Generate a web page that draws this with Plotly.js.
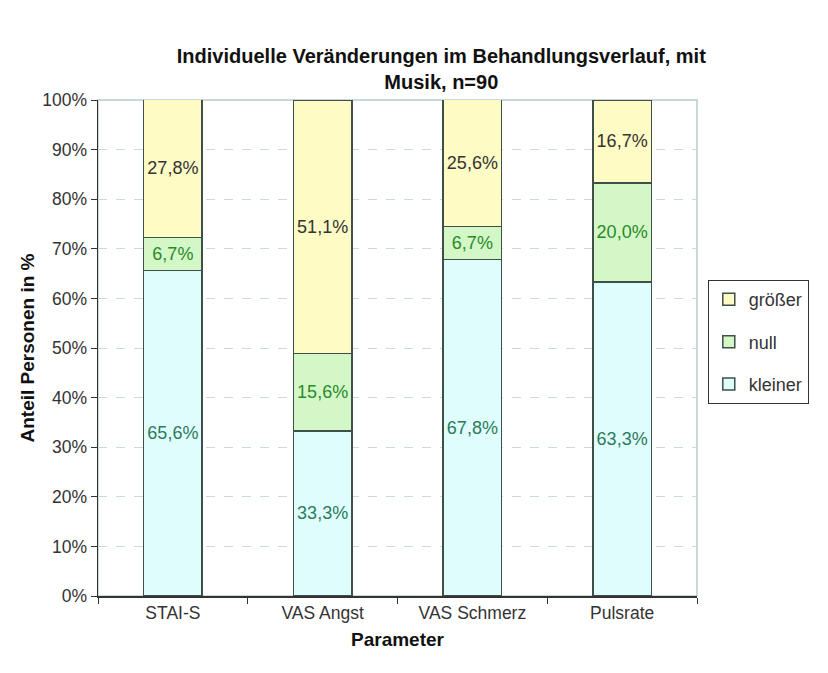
<!DOCTYPE html>
<html><head><meta charset="utf-8">
<script src="https://cdn.plot.ly/plotly-3.0.1.min.js"></script>
<style>body{margin:0;background:#fff}#chart{width:828px;height:673px}</style>
</head><body><div id="chart"></div>
<script>
const categories = ['STAI-S', 'VAS Angst', 'VAS Schmerz', 'Pulsrate'];
const kleiner = [65.6, 33.3, 67.8, 63.3];
const nullVals = [6.7, 15.6, 6.7, 20.0];
const groesser = [27.8, 51.1, 25.6, 16.7];
const yTickVals = [0,10,20,30,40,50,60,70,80,90,100];

const fmt = v => v.toFixed(1).replace('.', ',') + '%';
const font = 'Liberation Sans, Arial, sans-serif';
const outline = {color: '#3f4f4a', width: 1.5};

function trace(name, vals, fill, txtColor, grp, rank) {
  return {
    type: 'bar', name: name, x: categories, y: vals,
    text: vals.map(fmt), textposition: 'inside', insidetextanchor: 'middle',
    constraintext: 'none', textangle: 0,
    textfont: {family: font, size: 18, color: txtColor},
    marker: {color: fill, line: outline},
    width: 0.39, legendgroup: grp, legendrank: rank, hoverinfo: 'skip'
  };
}

const data = [
  trace('kleiner', kleiner, '#e0fdfd', '#2b7a5c', 'c', 3),
  trace('null', nullVals, '#d4f7c8', '#2a8a2a', 'b', 2),
  trace('größer', groesser, '#fffbc4', '#333333', 'a', 1)
];

const layout = {
  width: 828, height: 673,
  margin: {l: 98, r: 131, t: 100, b: 77},
  paper_bgcolor: '#ffffff', plot_bgcolor: '#ffffff',
  barmode: 'stack',
  font: {family: font, color: '#333'},
  title: {text: '<b>Individuelle Veränderungen im Behandlungsverlauf, mit<br>Musik, n=90</b>',
          x: 0.533, xanchor: 'center', xref: 'container', yref: 'container',
          y: 0.906, yanchor: 'middle',
          font: {family: font, size: 20, color: '#111'}},
  xaxis: {
    type: 'category', tickson: 'boundaries', ticks: 'outside', ticklen: 6,
    tickcolor: '#333', showline: true, linecolor: '#333', linewidth: 1.5,
    showgrid: false, tickfont: {family: font, size: 17.5, color: '#333'},
    title: {text: '<b>Parameter</b>', font: {family: font, size: 19, color: '#111'}, standoff: 11},
    range: [-0.5, 3.5], fixedrange: true
  },
  yaxis: {
    range: [0, 100], tickvals: yTickVals, ticktext: yTickVals.map(v => v + '%'),
    ticks: 'outside', ticklen: 6, tickcolor: '#333',
    showline: true, linecolor: '#333', linewidth: 1.5,
    showgrid: true, gridcolor: '#c9dcdc', griddash: 'dash', gridwidth: 1,
    zeroline: false,
    tickfont: {family: font, size: 17.5, color: '#333'},
    title: {text: '<b>Anteil Personen in %</b>', font: {family: font, size: 19, color: '#111'}, standoff: 2}
  },
  legend: {
    x: 1.018, y: 0.637, xanchor: 'left', yanchor: 'top',
    traceorder: 'grouped', tracegroupgap: 16,
    bordercolor: '#333', borderwidth: 1, bgcolor: '#fff',
    font: {family: font, size: 18, color: '#333'},
    itemwidth: 30
  },
  shapes: [
    {type: 'rect', xref: 'paper', yref: 'paper', x0: 0, x1: 1, y0: 0, y1: 1,
     line: {color: '#b8cccc', width: 1.5}, layer: 'below'}
  ],
  showlegend: true
};

Plotly.newPlot('chart', data, layout, {displayModeBar: false, staticPlot: true});
</script></body></html>
